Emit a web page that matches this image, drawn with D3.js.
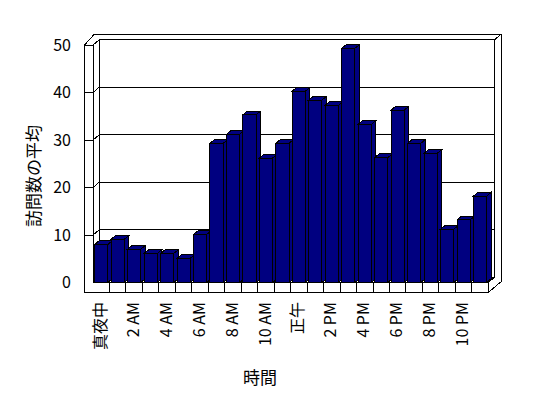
<!DOCTYPE html>
<html>
<head>
<meta charset="utf-8">
<script src="https://cdn.jsdelivr.net/npm/d3@7"></script>
<style>
  body { margin: 0; background: #fff; }
  text { font-family: "MS PGothic", "Noto Sans CJK JP", sans-serif; fill: #000; opacity: 0.99; }
</style>
</head>
<body>
<div id="chart"></div>
<script>
// hours of the day, only every other one gets a label
var hours = ["真夜中", "1 AM", "2 AM", "3 AM", "4 AM", "5 AM", "6 AM", "7 AM", "8 AM", "9 AM", "10 AM", "11 AM",
  "正午", "1 PM", "2 PM", "3 PM", "4 PM", "5 PM", "6 PM", "7 PM", "8 PM", "9 PM", "10 PM", "11 PM"];
var visits = [8.0, 9.1, 7.0, 6.1, 6.1, 5.1, 10.1, 29.3, 31.2, 35.3, 26.2, 29.3,
  40.3, 38.4, 37.3, 49.3, 33.3, 26.3, 36.3, 29.3, 27.2, 11.2, 13.2, 18.2];
var yTicks = [0, 10, 20, 30, 40, 50];

var width = 548, height = 398;

var svg = d3.select("#chart").append("svg")
  .attr("width", width)
  .attr("height", height)
  .attr("shape-rendering", "crispEdges");

var x0 = 93, x1 = 488.3;   // front edge of the floor
var dx = 6.5, dy = -5.5;   // one unit of depth
var wall = 8.5, slab = 10; // wall / floor thickness
var bdx = 4.5, bdy = -3.7; // depth of one column

var x = d3.scaleBand().domain(hours).range([x0, x1]).paddingInner(0.2).paddingOuter(0.1);
var xc = d3.scaleBand().domain(hours).range([x0, x1]).padding(0);
var y = d3.scaleLinear().domain([0, 50]).range([282.5, 45]);

var y0 = y(0), yt = y(50);

function line(a, b, c, d) {
  svg.append("line").attr("x1", a).attr("y1", b).attr("x2", c).attr("y2", d)
    .attr("stroke", "#000").attr("stroke-width", 1);
}
function poly(pts, fill) {
  return svg.append("polygon")
    .attr("points", pts.map(function(p) { return p.join(","); }).join(" "))
    .attr("fill", fill).attr("stroke", "#000").attr("stroke-width", 1);
}

// outer shape of walls + floor
poly([[x0 - wall, yt], [x0 - wall + 10, yt + 2 * dy], [x1 + 2 * dx, yt + 2 * dy],
  [x1 + 2 * dx, y0 + slab + 2 * dy], [x1, y0 + slab], [x0 - wall, y0 + slab]], "#fff");

// back wall front face
poly([[x0 + dx, yt + dy], [x1 + dx, yt + dy], [x1 + dx, y0 + dy], [x0 + dx, y0 + dy]], "#fff");
line(x1 + dx, yt + dy, x1 + 2 * dx, yt + 2 * dy);
line(x1 + dx, y0 + dy, x1, y0);

// left wall
line(x0, yt, x0, y0);
line(x0 - wall, yt, x0, yt);
line(x0, yt, x0 + dx, yt + dy);
line(x0, y0, x0 + dx, y0 + dy);

// floor front face
line(x0, y0, x1, y0);
line(x1, y0, x1, y0 + slab);

// gridlines and ticks
yTicks.slice(1, -1).forEach(function(v) {
  line(x0 + dx, y(v) + dy, x1 + dx, y(v) + dy);
  line(x0, y(v), x0 + dx, y(v) + dy);
  line(x0 - wall, y(v), x0, y(v));
});

hours.slice(1).forEach(function(h) {
  line(xc(h), y0, xc(h), y0 + slab);
});

// columns
var bw = x.bandwidth();
visits.forEach(function(v, i) {
  var l = x(hours[i]), r = l + bw, t = y(v);
  poly([[r, y0], [r + bdx, y0 + bdy], [r + bdx, t + bdy], [r, t]], "#000080");
  poly([[l, t], [l + bdx, t + bdy], [r + bdx, t + bdy], [r, t]], "#000080");
  poly([[l, t], [r, t], [r, y0], [l, y0]], "#000080");
});

// y axis labels
svg.append("g").selectAll("text")
  .data(yTicks)
  .enter().append("text")
  .attr("x", 71)
  .attr("y", function(d) { return y(d); })
  .attr("dy", "0.36em")
  .attr("text-anchor", "end")
  .style("font-size", "16px")
  .text(function(d) { return d; });

// x axis labels
svg.append("g").selectAll("text")
  .data(hours.filter(function(d, i) { return i % 2 === 0; }))
  .enter().append("text")
  .attr("transform", function(d) {
    return "translate(" + (xc(d) + xc.bandwidth() / 2 - 1) + ",302) rotate(-90)";
  })
  .attr("dy", "0.35em")
  .attr("text-anchor", "end")
  .style("font-size", "16px")
  .text(function(d) { return d; });

svg.append("text")
  .attr("transform", "translate(34,176) rotate(-90)")
  .attr("dy", "0.35em")
  .attr("text-anchor", "middle")
  .style("font-size", "17px")
  .text("訪問数の平均");

svg.append("text")
  .attr("x", 260)
  .attr("y", 378)
  .attr("dy", "0.35em")
  .attr("text-anchor", "middle")
  .style("font-size", "17px")
  .text("時間");
</script>
</body>
</html>
